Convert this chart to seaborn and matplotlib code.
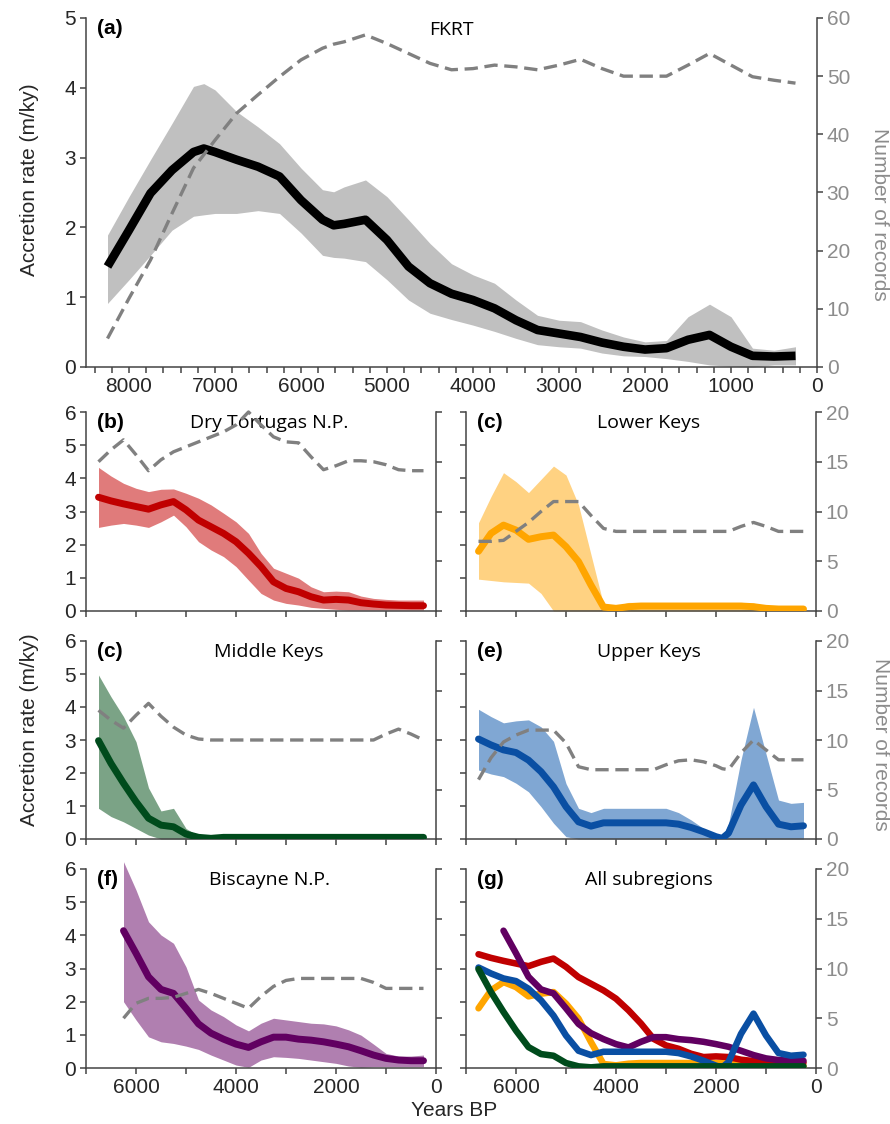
import matplotlib
matplotlib.use("Agg")
import matplotlib.pyplot as plt
from matplotlib.ticker import MultipleLocator, FuncFormatter
import seaborn as sns

sns.set_style("ticks")
plt.rcParams['font.family'] = ['Liberation Sans', 'DejaVu Sans']

# ---------------- data ----------------
# (a) FKRT
a_years = [8250, 8000, 7750, 7500, 7250, 7130, 7000, 6750, 6500, 6250, 6000, 5750, 5620, 5500, 5250,
           5000, 4750, 4500, 4250, 4000, 3750, 3500, 3250, 3000, 2750, 2500, 2250, 2000, 1750, 1500,
           1250, 1000, 750, 500, 250]
a_mean = [1.44, 1.96, 2.49, 2.82, 3.08, 3.13, 3.08, 2.97, 2.87, 2.73, 2.39, 2.11, 2.03, 2.05, 2.11,
          1.82, 1.44, 1.20, 1.05, 0.96, 0.84, 0.67, 0.53, 0.48, 0.43, 0.35, 0.29, 0.25, 0.27, 0.39,
          0.46, 0.29, 0.16, 0.15, 0.16]
a_upper = [1.89, 2.44, 2.97, 3.49, 4.02, 4.06, 3.97, 3.66, 3.44, 3.20, 2.85, 2.54, 2.51, 2.58, 2.68,
           2.44, 2.11, 1.77, 1.48, 1.32, 1.20, 0.96, 0.74, 0.67, 0.65, 0.53, 0.43, 0.36, 0.38, 0.72,
           0.90, 0.72, 0.27, 0.24, 0.29]
a_lower = [0.91, 1.25, 1.60, 1.96, 2.16, 2.18, 2.20, 2.20, 2.24, 2.20, 1.92, 1.60, 1.57, 1.56, 1.51,
           1.25, 0.96, 0.77, 0.68, 0.60, 0.51, 0.41, 0.32, 0.29, 0.27, 0.20, 0.16, 0.15, 0.12, 0.08,
           0.03, 0.01, 0.00, 0.03, 0.03]
a_rec = [4.9, 11.8, 18.4, 26.4, 34.2, 36.5, 39.0, 43.6, 46.8, 49.9, 52.8, 54.8, 55.5, 55.9, 57.1,
         55.6, 53.9, 52.2, 51.1, 51.3, 51.9, 51.6, 51.1, 51.9, 52.9, 51.3, 50.0, 50.0, 50.0, 51.9,
         53.9, 51.9, 49.9, 49.3, 48.8]

# sub-regions
sub_years = [6750, 6500, 6250, 6000, 5750, 5500, 5250, 5000, 4750, 4500, 4250, 4000, 3750, 3500,
             3250, 3000, 2750, 2500, 2250, 2000, 1750, 1500, 1250, 1000, 750, 500, 250]

# (b) Dry Tortugas N.P.
b_mean = [3.43, 3.32, 3.23, 3.15, 3.07, 3.20, 3.30, 3.05, 2.74, 2.54, 2.34, 2.09, 1.74, 1.34,
          0.88, 0.68, 0.58, 0.43, 0.33, 0.35, 0.33, 0.25, 0.21, 0.18, 0.17, 0.16, 0.16]
b_upper = [4.33, 4.07, 3.85, 3.70, 3.60, 3.67, 3.68, 3.55, 3.40, 3.20, 2.95, 2.69, 2.34, 1.74,
           1.29, 1.14, 0.99, 0.73, 0.58, 0.60, 0.58, 0.45, 0.38, 0.35, 0.33, 0.33, 0.33]
b_lower = [2.52, 2.59, 2.64, 2.59, 2.52, 2.69, 2.89, 2.54, 2.09, 1.84, 1.64, 1.34, 0.93, 0.53,
           0.33, 0.23, 0.18, 0.11, 0.08, 0.05, 0.03, 0.03, 0.03, 0.03, 0.03, 0.03, 0.03]
b_rec = [15.0, 16.2, 17.2, 15.7, 14.1, 15.2, 16.0, 16.5, 17.0, 17.5, 18.0, 18.7, 20.0, 18.7,
         17.5, 17.0, 16.9, 15.5, 14.2, 14.6, 15.1, 15.1, 15.0, 14.7, 14.2, 14.1, 14.1]

# (c) Lower Keys
c_mean = [1.80, 2.34, 2.59, 2.44, 2.16, 2.24, 2.29, 1.94, 1.49, 0.78, 0.12, 0.08, 0.13, 0.15,
          0.15, 0.15, 0.15, 0.15, 0.15, 0.15, 0.15, 0.15, 0.13, 0.08, 0.06, 0.06, 0.06]
c_upper = [2.66, 3.45, 4.17, 3.90, 3.57, 3.97, 4.37, 4.10, 3.20, 1.70, 0.20, 0.15, 0.26, 0.26,
           0.26, 0.26, 0.26, 0.26, 0.26, 0.26, 0.26, 0.26, 0.24, 0.15, 0.13, 0.13, 0.13]
c_lower = [0.96, 0.92, 0.88, 0.86, 0.84, 0.53, 0.00, 0.00, 0.00, 0.00, 0.00, 0.00, 0.00, 0.00,
           0.00, 0.00, 0.00, 0.00, 0.00, 0.00, 0.00, 0.00, 0.00, 0.00, 0.00, 0.00, 0.00]
c_rec = [7.0, 7.0, 7.1, 8.0, 8.9, 10.0, 11.0, 11.0, 11.0, 9.6, 8.3, 8.0, 8.0, 8.0,
         8.0, 8.0, 8.0, 8.0, 8.0, 8.0, 8.0, 8.5, 8.9, 8.5, 8.0, 8.0, 8.0]

# (c) Middle Keys
d_mean = [2.98, 2.29, 1.69, 1.13, 0.63, 0.42, 0.37, 0.15, 0.05, 0.02, 0.05, 0.05, 0.05, 0.05,
          0.05, 0.05, 0.05, 0.05, 0.05, 0.05, 0.05, 0.05, 0.05, 0.05, 0.05, 0.05, 0.05]
d_upper = [4.97, 4.31, 3.71, 2.95, 1.55, 0.85, 0.93, 0.32, 0.09, 0.09, 0.09, 0.09, 0.09, 0.09,
           0.09, 0.09, 0.09, 0.09, 0.09, 0.09, 0.09, 0.09, 0.09, 0.09, 0.09, 0.09, 0.09]
d_lower = [0.93, 0.68, 0.52, 0.32, 0.12, 0.00, 0.00, 0.00, 0.00, 0.00, 0.00, 0.00, 0.00, 0.00,
           0.00, 0.00, 0.00, 0.00, 0.00, 0.00, 0.00, 0.00, 0.00, 0.00, 0.00, 0.00, 0.00]
d_rec = [13.0, 12.0, 11.2, 12.5, 13.7, 12.4, 11.3, 10.5, 10.1, 10.0, 10.0, 10.0, 10.0, 10.0,
         10.0, 10.0, 10.0, 10.0, 10.0, 10.0, 10.0, 10.0, 10.0, 10.6, 11.1, 10.6, 10.0]

# (e) Upper Keys
e_years = [6750, 6500, 6250, 6000, 5750, 5500, 5250, 5000, 4750, 4500, 4250, 4000, 3750, 3500,
           3250, 3000, 2750, 2500, 2250, 2000, 1875, 1750, 1500, 1250, 1000, 750, 500, 250]
e_mean = [3.03, 2.85, 2.70, 2.62, 2.39, 2.04, 1.58, 0.98, 0.52, 0.39, 0.49, 0.49, 0.49, 0.49,
          0.49, 0.49, 0.45, 0.35, 0.22, 0.07, 0.02, 0.18, 1.03, 1.64, 0.98, 0.45, 0.37, 0.40]
e_upper = [3.93, 3.71, 3.52, 3.58, 3.61, 3.40, 2.96, 1.68, 0.93, 0.80, 0.93, 0.93, 0.93, 0.93,
           0.93, 0.93, 0.80, 0.58, 0.32, 0.10, 0.05, 0.45, 2.40, 3.99, 2.58, 1.18, 1.08, 1.11]
e_lower = [2.09, 1.97, 1.89, 1.69, 1.43, 0.98, 0.48, 0.07, 0.00, 0.00, 0.00, 0.00, 0.00, 0.00,
           0.00, 0.00, 0.00, 0.00, 0.00, 0.00, 0.00, 0.00, 0.00, 0.00, 0.00, 0.00, 0.00, 0.00]
e_rec = [6.0, 8.2, 9.8, 10.5, 11.0, 11.0, 11.0, 9.7, 7.3, 7.0, 7.0, 7.0, 7.0, 7.0,
         7.0, 7.5, 7.9, 8.0, 7.8, 7.4, 7.1, 7.0, 8.7, 10.0, 9.0, 8.0, 8.0, 8.0]

# (f) Biscayne N.P.
f_years = [6250, 6000, 5750, 5500, 5250, 5000, 4750, 4500, 4250, 4000, 3750, 3500, 3250, 3000,
           2750, 2500, 2250, 2000, 1750, 1500, 1250, 1000, 750, 500, 250]
f_mean = [4.14, 3.46, 2.75, 2.37, 2.25, 1.80, 1.33, 1.05, 0.87, 0.72, 0.62, 0.79, 0.93, 0.93,
          0.87, 0.84, 0.79, 0.72, 0.64, 0.52, 0.39, 0.29, 0.24, 0.22, 0.22]
f_upper = [6.22, 5.37, 4.41, 4.01, 3.76, 3.05, 2.05, 1.75, 1.55, 1.30, 1.12, 1.35, 1.50, 1.45,
           1.40, 1.35, 1.33, 1.27, 1.15, 0.99, 0.72, 0.44, 0.36, 0.36, 0.39]
f_lower = [2.00, 1.45, 0.94, 0.79, 0.74, 0.66, 0.56, 0.39, 0.24, 0.09, 0.02, 0.24, 0.34, 0.32,
           0.29, 0.24, 0.19, 0.14, 0.06, 0.02, 0.04, 0.04, 0.04, 0.04, 0.04]
f_rec = [5.0, 6.5, 7.0, 7.0, 7.1, 7.5, 7.9, 7.5, 7.0, 6.5, 6.0, 7.2, 8.2, 8.8,
         9.0, 9.0, 9.0, 9.0, 9.0, 9.0, 8.6, 8.0, 8.0, 8.0, 8.0]

a_ticks = [8000, 7000, 6000, 5000, 4000, 3000, 2000, 1000, 0]

# ---------------- style ----------------
W, H = 890, 1124
SPINE = '#444444'
GREY = '#8c8c8c'
DASH = '#808080'
TFS = 15
fig = plt.figure(figsize=(W / 100, H / 100), dpi=100)


def rect(x0, y0, x1, y1):
    return [x0 / W, 1 - y1 / H, (x1 - x0) / W, (y1 - y0) / H]


def style(ax, ax2, left_labels, right_labels, xlabels, ylim, ylim2, ystep2):
    for a in (ax, ax2):
        a.spines['top'].set_visible(False)
    ax.spines['right'].set_visible(False)
    for s in ('left', 'bottom'):
        ax2.spines[s].set_visible(False)
    for s in ('left', 'bottom'):
        ax.spines[s].set_color(SPINE)
        ax.spines[s].set_linewidth(1.1)
    ax2.spines['right'].set_color(SPINE)
    ax2.spines['right'].set_linewidth(1.1)
    ax.set_ylim(*ylim)
    ax2.set_ylim(*ylim2)
    ax.yaxis.set_major_locator(MultipleLocator(1))
    ax2.yaxis.set_major_locator(MultipleLocator(ystep2))
    ax.tick_params(axis='both', which='both', direction='out', length=4, width=1.1,
                   color=SPINE, labelsize=TFS, pad=3)
    ax2.tick_params(axis='y', direction='out', length=4, width=1.1, color=SPINE,
                    labelsize=TFS, labelcolor=GREY, pad=3)
    if not left_labels:
        ax.set_yticklabels([])
    if not right_labels:
        ax2.set_yticklabels([])
    if not xlabels:
        ax.set_xticklabels([])
    ax.set_xlabel('')
    ax.set_ylabel('')
    ax2.set_ylabel('')


def label_title(ax, lab, title, tx, lx):
    ax.text(lx, 0.997, lab, transform=ax.transAxes, ha='left', va='top',
            fontsize=TFS, fontweight='bold', color='black', zorder=10)
    ax.text(tx, 0.99, title, transform=ax.transAxes, ha='center', va='top',
            fontsize=14, family=['Open Sans', 'DejaVu Sans'], color='black', zorder=10)


def dashed(ax2, xs, ys):
    sns.lineplot(x=xs, y=ys, ax=ax2, color=DASH, lw=2.4, linestyle=(0, (4, 2)),
                 estimator=None, sort=False, clip_on=False)


# ---------------- panel (a) ----------------
ax = fig.add_axes(rect(86, 18, 817, 367))
ax.fill_between(a_years, a_lower, a_upper, color='#c0c0c0', lw=0, zorder=1)
sns.lineplot(x=a_years, y=a_mean, ax=ax, color='black', lw=6.2, estimator=None, sort=False,
             solid_capstyle='butt', solid_joinstyle='round', zorder=3)
ax.set_xlim(8500, 0)
ax.set_xticks(a_ticks)
ax.xaxis.set_minor_locator(MultipleLocator(200))
ax2 = ax.twinx()
dashed(ax2, a_years, a_rec)
style(ax, ax2, True, True, True, (0, 5), (0, 60), 10)
label_title(ax, '(a)', 'FKRT', 0.5, 0.015)

# ---------------- sub panels ----------------
rows = [(412, 611), (641, 839), (869, 1068)]
cols = [(86, 436), (466, 816)]

panels = [
    (0, 0, '(b)', 'Dry Tortugas N.P.', sub_years, b_mean, b_upper, b_lower, '#c00000', '#e07b7b', b_rec),
    (0, 1, '(c)', 'Lower Keys', sub_years, c_mean, c_upper, c_lower, '#ffa500', '#ffd282', c_rec),
    (1, 0, '(c)', 'Middle Keys', sub_years, d_mean, d_upper, d_lower, '#004b1c', '#7ba386', d_rec),
    (1, 1, '(e)', 'Upper Keys', e_years, e_mean, e_upper, e_lower, '#0a4fa3', '#80a7d3', e_rec),
    (2, 0, '(f)', 'Biscayne N.P.', f_years, f_mean, f_upper, f_lower, '#610061', '#b07fb0', f_rec),
]


def even_fmt(v, pos):
    return '%d' % v if int(round(v)) % 2000 == 0 else ''


for r, c, lab, title, xs, m, up, lo, lc, fc, ry in panels:
    (y0, y1), (x0, x1) = rows[r], cols[c]
    ax = fig.add_axes(rect(x0, y0, x1, y1))
    ax.fill_between(xs, lo, up, color=fc, lw=0, zorder=1, clip_on=False)
    sns.lineplot(x=xs, y=m, ax=ax, color=lc, lw=5.0, estimator=None, sort=False,
                 solid_capstyle='round', solid_joinstyle='round', zorder=3)
    ax.set_xlim(7000, 0)
    ax.xaxis.set_major_locator(MultipleLocator(1000))
    ax.xaxis.set_major_formatter(FuncFormatter(even_fmt))
    ax2 = ax.twinx()
    dashed(ax2, xs, ry)
    style(ax, ax2, c == 0, c == 1, r == 2, (0, 6), (0, 20), 5)
    label_title(ax, lab, title, 0.523, 0.031)

# ---------------- panel (g) ----------------
(y0, y1), (x0, x1) = rows[2], cols[1]
ax = fig.add_axes(rect(x0, y0, x1, y1))
for xs, m, lc in [(sub_years, c_mean, '#ffa500'), (sub_years, b_mean, '#c00000'),
                  (f_years, f_mean, '#610061'), (e_years, e_mean, '#0a4fa3'),
                  (sub_years, d_mean, '#004b1c')]:
    sns.lineplot(x=xs, y=m, ax=ax, color=lc, lw=4.7, estimator=None, sort=False,
                 solid_capstyle='round', solid_joinstyle='round', zorder=3)
ax.set_xlim(7000, 0)
ax.xaxis.set_major_locator(MultipleLocator(1000))
ax.xaxis.set_major_formatter(FuncFormatter(even_fmt))
ax2 = ax.twinx()
style(ax, ax2, False, True, True, (0, 6), (0, 20), 5)
label_title(ax, '(g)', 'All subregions', 0.523, 0.031)

# ---------------- axis titles ----------------
fig.text(29.5 / W, 1 - 180 / H, 'Accretion rate (m/ky)', rotation=90, ha='center', va='center', fontsize=TFS)
fig.text(29.5 / W, 1 - 730 / H, 'Accretion rate (m/ky)', rotation=90, ha='center', va='center', fontsize=TFS)
fig.text(880 / W, 1 - 214 / H, 'Number of records', rotation=270, ha='center', va='center',
         fontsize=TFS, color=GREY)
fig.text(880.5 / W, 1 - 744 / H, 'Number of records', rotation=270, ha='center', va='center',
         fontsize=TFS, color=GREY)
fig.text(454 / W, 1 - 1110 / H, 'Years BP', ha='center', va='center', fontsize=TFS)

fig.savefig('out.png', dpi=100)
